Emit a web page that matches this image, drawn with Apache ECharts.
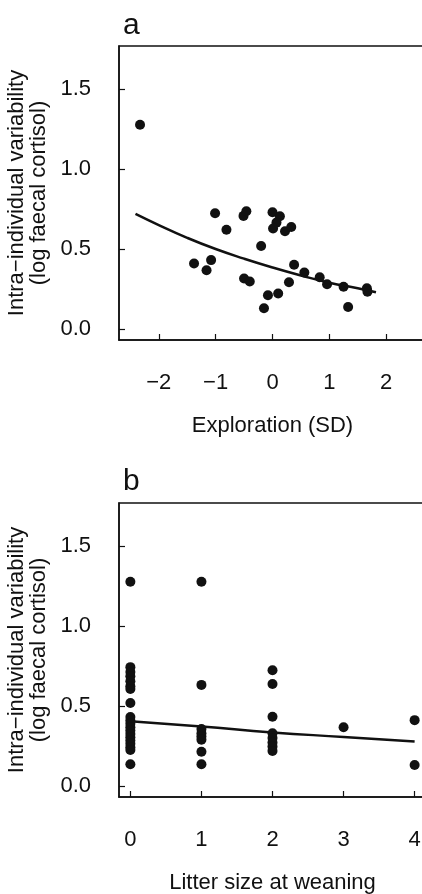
<!DOCTYPE html>
<html>
<head>
<meta charset="utf-8">
<script src="https://cdn.jsdelivr.net/npm/echarts@6/dist/echarts.min.js"></script>
<style>
  html, body { margin: 0; padding: 0; background: #fff; }
  #chart { width: 422px; height: 894px; }
</style>
</head>
<body>
<div id="chart"></div>
<script>
// panel a: exploration score vs cortisol variability
const explX = [-2.33, -1.01, -0.81, -1.38, -1.08, -1.16, -0.51, -0.46, -0.50, -0.40,
  -0.20, 0.00, 0.13, 0.07, 0.01, 0.22, 0.33, -0.15, -0.08, 0.10,
  0.29, 0.38, 0.56, 0.83, 0.96, 1.25, 1.33, 1.66, 1.67]
const explY = [1.276, 0.724, 0.621, 0.410, 0.431, 0.368, 0.707, 0.736, 0.316, 0.297,
  0.519, 0.730, 0.705, 0.665, 0.628, 0.611, 0.638, 0.130, 0.211, 0.222,
  0.293, 0.402, 0.354, 0.324, 0.280, 0.264, 0.138, 0.255, 0.234]
const fitAX = [-2.41, -2, -1.5, -1, -0.5, 0, 0.5, 1, 1.5, 1.82]
const fitAY = [0.72, 0.65, 0.57, 0.50, 0.44, 0.385, 0.335, 0.29, 0.255, 0.23]

// panel b: litter size at weaning
const litterX = [0, 0, 0, 0, 0, 0, 0, 0, 0, 0, 0, 0, 0, 0, 0, 0, 0, 0, 0, 0,
  1, 1, 1, 1, 1, 1, 1, 1,
  2, 2, 2, 2, 2, 2, 2, 2,
  3, 4, 4]
const litterY = [1.276, 0.743, 0.713, 0.686, 0.655, 0.623, 0.607, 0.519, 0.431, 0.410,
  0.389, 0.368, 0.347, 0.326, 0.305, 0.285, 0.264, 0.243, 0.226, 0.136,
  1.276, 0.632, 0.356, 0.330, 0.310, 0.290, 0.215, 0.136,
  0.724, 0.638, 0.433, 0.330, 0.300, 0.272, 0.247, 0.220,
  0.368, 0.412, 0.132]
const fitBX = [0, 1, 2, 3, 4]
const fitBY = [0.405, 0.372, 0.335, 0.307, 0.278]

const xTicksA = [-2, -1, 0, 1, 2]
const xTicksB = [0, 1, 2, 3, 4]
const yTicks = [0, 0.5, 1, 1.5]

const ink = '#111'
const font = 'Liberation Sans, Arial, sans-serif'
const yName = 'Intra\u2212individual variability\n(log faecal cortisol)'

function xAxisOf(gridIndex, min, max, ticks, name) {
    return {
        gridIndex, type: 'value', min, max,
        name, nameLocation: 'middle', nameGap: 75,
        nameTextStyle: { color: ink, fontSize: 22, fontFamily: font },
        axisLine: { show: true, onZero: false, lineStyle: { color: ink, width: 1.5 } },
        axisTick: { show: true, inside: true, length: 6, customValues: ticks, lineStyle: { color: ink, width: 1.2 } },
        axisLabel: {
            customValues: ticks, margin: 32, color: ink, fontSize: 22, fontFamily: font,
            formatter: v => String(v).replace('-', '\u2212')
        },
        splitLine: { show: false }
    }
}

function yAxisOf(gridIndex) {
    return {
        gridIndex, type: 'value', min: -0.068, max: 1.768,
        name: yName, nameLocation: 'middle', nameGap: 62, nameRotate: 90,
        nameTextStyle: { color: ink, fontSize: 22, fontFamily: font, lineHeight: 22, align: 'center' },
        axisLine: { show: true, onZero: false, lineStyle: { color: ink, width: 1.5 } },
        axisTick: { show: true, inside: true, length: 6, customValues: yTicks, lineStyle: { color: ink, width: 1.2 } },
        axisLabel: {
            customValues: yTicks, margin: 28, color: ink, fontSize: 22, fontFamily: font,
            formatter: v => v.toFixed(1)
        },
        splitLine: { show: false }
    }
}

const zip = (xs, ys) => xs.map((x, i) => [x, ys[i]])

const chart = echarts.init(document.getElementById('chart'), null, { renderer: 'canvas' })
chart.setOption({
    animation: false,
    backgroundColor: '#fff',
    title: [
        { text: 'a', left: 118, top: 6, textStyle: { color: ink, fontSize: 30, fontWeight: 'normal', fontFamily: font } },
        { text: 'b', left: 118, top: 462, textStyle: { color: ink, fontSize: 30, fontWeight: 'normal', fontFamily: font } }
    ],
    grid: [
        { left: 119, top: 46, width: 307, height: 294, show: true, borderColor: ink, borderWidth: 1.5, outerBoundsMode: 'none', containLabel: false },
        { left: 119, top: 503, width: 307, height: 294, show: true, borderColor: ink, borderWidth: 1.5, outerBoundsMode: 'none', containLabel: false }
    ],
    xAxis: [
        xAxisOf(0, -2.7, 2.7, xTicksA, 'Exploration (SD)'),
        xAxisOf(1, -0.16, 4.16, xTicksB, 'Litter size at weaning')
    ],
    yAxis: [yAxisOf(0), yAxisOf(1)],
    series: [
        { type: 'scatter', xAxisIndex: 0, yAxisIndex: 0, data: zip(explX, explY), symbolSize: 10, itemStyle: { color: ink, opacity: 1 } },
        { type: 'line', xAxisIndex: 0, yAxisIndex: 0, data: zip(fitAX, fitAY), smooth: true, showSymbol: false, lineStyle: { color: ink, width: 2.5 } },
        { type: 'scatter', xAxisIndex: 1, yAxisIndex: 1, data: zip(litterX, litterY), symbolSize: 10, itemStyle: { color: ink, opacity: 1 } },
        { type: 'line', xAxisIndex: 1, yAxisIndex: 1, data: zip(fitBX, fitBY), smooth: true, showSymbol: false, lineStyle: { color: ink, width: 2.5 } }
    ]
})
</script>
</body>
</html>
